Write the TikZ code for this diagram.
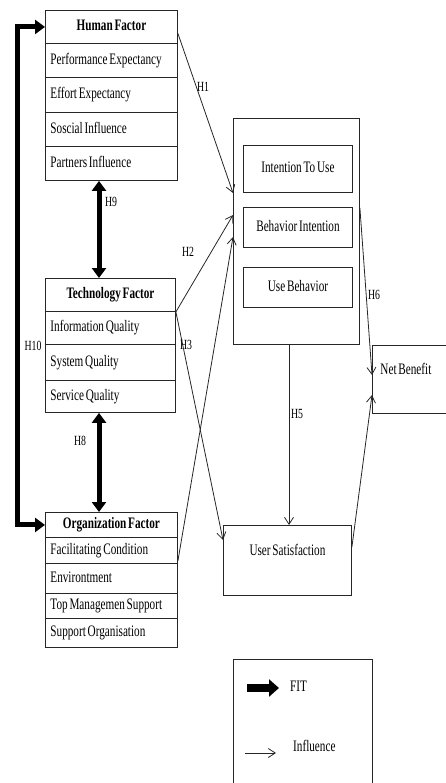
\documentclass[tikz,border=0pt]{standalone}
\usepackage{fontspec}
\setmainfont{Liberation Serif}[FakeStretch=0.7, WordSpace=0.65]
\usetikzlibrary{arrows.meta,calc}
\newcommand\bodyfont{\fontsize{16pt}{18pt}\selectfont}
\newcommand\hfont{\fontsize{14pt}{16pt}\selectfont}
\begin{document}
\begin{tikzpicture}[x=1pt,y=-1pt,
  box/.style={draw=black!85, line width=0.9pt},
  cell/.style={box, anchor=north west, inner xsep=5pt, inner ysep=0pt,
    text width=#1, align=flush left, font=\bodyfont, text height=11pt, text depth=3pt},
  hdr/.style={cell=#1, align=flush center, font=\bodyfont\bfseries},
  inbox/.style={box, anchor=north west, minimum width=109pt, inner sep=0pt,
    font=\bodyfont, text height=11pt, text depth=3pt},
  hlab/.style={font=\hfont, inner sep=0pt},
  infl/.style={draw=black!85, line width=0.8pt, -{Straight Barb[length=7pt,width=9pt]}},
  fitarr/.style={line width=5pt, {Triangle[length=10pt,width=14pt]}-{Triangle[length=10pt,width=14pt]}},
]
\useasboundingbox (0,0) rectangle (446,783);

% Human factor group
\node[hdr=122pt, minimum height=33pt] (hfh) at (45,10) {Human Factor};
\node[cell=122pt, minimum height=34pt] (hfr1) at (45,43) {Performance Expectancy};
\node[cell=122pt, minimum height=35pt] (hfr2) at (45,77) {Effort Expectancy};
\node[cell=122pt, minimum height=34pt] (hfr3) at (45,112) {Soscial Influence};
\node[cell=122pt, minimum height=34pt] (hfr4) at (45,146) {Partners Influence};

% Technology factor group
\node[hdr=120pt, minimum height=33pt] (tfh) at (45,278) {Technology Factor};
\node[cell=120pt, minimum height=33pt] (tfr1) at (45,311) {Information Quality};
\node[cell=120pt, minimum height=36pt] (tfr2) at (45,344) {System Quality};
\node[cell=120pt, minimum height=32pt] (tfr3) at (45,380) {Service Quality};

% Organization factor group
\node[hdr=122pt, minimum height=25pt] (ofh) at (45,512) {Organization Factor};
\node[cell=122pt, minimum height=26pt] (ofr1) at (45,537) {Facilitating Condition};
\node[cell=122pt, minimum height=30pt] (ofr2) at (45,563) {Environtment};
\node[cell=122pt, minimum height=25pt] (ofr3) at (45,593) {Top Managemen Support};
\node[cell=122pt, minimum height=29pt] (ofr4) at (45,618) {Support Organisation};

% Use construct
\node[box, anchor=north west, minimum width=126pt, minimum height=226pt, inner sep=0pt] (cen) at (233,118) {};
\node[inbox, minimum height=47pt] (itu) at (243,145) {Intention To Use};
\node[inbox, minimum height=40pt] (bi) at (243,207) {Behavior Intention};
\node[inbox, minimum height=40pt] (ub) at (243,267) {Use Behavior};

% Outcomes
\node[box, anchor=north west, minimum width=128pt, minimum height=70pt, inner sep=0pt,
  font=\bodyfont, text height=11pt, text depth=21pt] (us) at (223,525) {User Satisfaction};
\node[box, anchor=north west, minimum height=68pt, inner xsep=8pt, inner ysep=0pt,
  text width=64pt, align=flush left, font=\bodyfont, text height=11pt, text depth=21pt] (nb) at (372,345) {Net Benefit};

% FIT relations
\coordinate (lx) at (17,0);
\coordinate (ax) at (99,0);
\draw[fitarr] (hfh.west) -- (hfh.west -| lx) -- (ofh.west -| lx) -- (ofh.west);
\draw[fitarr] (hfr4.south -| ax) -- (tfh.north -| ax);
\draw[fitarr] (tfr3.south -| ax) -- (ofh.north -| ax);

% Influence relations
\coordinate (h5x) at (289,0);
\draw[infl] ([yshift=-6.5pt]hfh.east) -- ([yshift=-75pt]cen.north west);
\draw[infl] (tfh.south east) -- ([yshift=-97pt]cen.north west);
\draw[infl] (tfh.south east) -- ([yshift=-15pt]us.north west);
\draw[infl] ([yshift=3pt]ofr1.south east) -- ([yshift=-119pt]cen.north west);
\draw[infl] (cen.south -| h5x) -- (us.north -| h5x);
\draw[infl] ([yshift=-90pt]cen.north east) -- ([yshift=-30pt]nb.north west);
\draw[infl] ([yshift=-22pt]us.north east) -- ([yshift=-50pt]nb.north west);

% Hypothesis labels
\node[hlab] (lh1) at (203,87) {H1};
\node[hlab] (lh2) at (188,252) {H2};
\node[hlab] (lh3) at (186,345) {H3};
\node[hlab] (lh5) at (297,414) {H5};
\node[hlab] (lh6) at (374,295) {H6};
\node[hlab] (lh8) at (80,441) {H8};
\node[hlab] (lh9) at (111,202) {H9};
\node[hlab] (lh10) at (33,346) {H10};

% Legend
\draw[box] (233,786) -- (233,659) -- (372,659) -- (372,786);
\coordinate (fa) at (247,688);
\coordinate (fb) at (279,688);
\draw[line width=8pt, -{Triangle[length=10pt,width=17pt]}] (fa) -- (fb);
\node[font=\bodyfont, anchor=west, inner sep=0pt] (fitt) at (290,686) {FIT};
\coordinate (ia) at (245,753);
\coordinate (ib) at (276,753);
\draw[infl] (ia) -- (ib);
\node[font=\bodyfont, anchor=west, inner sep=0pt] (inft) at (293,746) {Influence};
\end{tikzpicture}
\end{document}
